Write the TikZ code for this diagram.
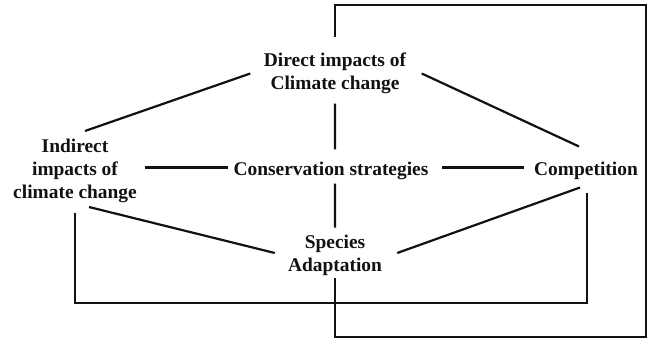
\documentclass[tikz,border=0pt]{standalone}
\usepackage{fontspec}
\setmainfont{Liberation Serif}
\usetikzlibrary{positioning,calc}
\definecolor{ink}{RGB}{17,17,17}
\tikzset{
  item/.style={align=center, inner sep=0pt, text=ink,
               font=\fontsize{19.5}{23}\selectfont\bfseries},
  link/.style={line width=2.2bp, draw=ink},
  hlink/.style={line width=3bp, draw=ink},
}

\begin{document}
\begin{tikzpicture}[x=1bp, y=-1bp]
  \useasboundingbox (0,0) rectangle (649,341);

  % ---- the five concepts ---------------------------------------------
  \node[item] (direct)   at (335,73.5)  {Direct impacts of\\Climate change};
  \node[item] (indirect) at (75,170.5)  {Indirect\\impacts of\\climate change};
  \node[item] (cons)     at (331,170.5) {Conservation strategies};
  \node[item] (comp)     at (586,170.5) {Competition};
  \node[item] (species)  at (335,255.5) {Species\\Adaptation};

  % ---- diagonal links ------------------------------------------------
  \draw[link] ([xshift=-13.5bp]direct.west) -- ([xshift=10bp,yshift=7.5bp]indirect.north);
  \draw[link] ([xshift=15.5bp]direct.east) -- ([xshift=-7bp,yshift=15bp]comp.north);
  \draw[link] ([xshift=14bp,yshift=-4.5bp]indirect.south) -- ([xshift=-13bp,yshift=2.5bp]species.west);
  \draw[link] ([xshift=15bp,yshift=2.5bp]species.east) -- ([xshift=-6bp,yshift=-8bp]comp.south);

  % ---- middle row and middle column ----------------------------------
  \draw[hlink] ([xshift=8bp,yshift=3bp]indirect.east) -- ([xshift=-5bp,yshift=3bp]cons.west);
  \draw[hlink] ([xshift=13bp,yshift=3bp]cons.east) -- ([xshift=-10bp,yshift=3bp]comp.west);
  \draw[link] ([yshift=-9.5bp]direct.south) -- ([xshift=4bp,yshift=12bp]cons.north);
  \draw[link] ([xshift=4bp,yshift=-4bp]cons.south) -- ([yshift=7.5bp]species.north);

  % ---- the two loops -------------------------------------------------
  \draw[link] ([yshift=-10.5bp]indirect.south) -- ++(0,90)
              -| ([xshift=1bp,yshift=-13bp]comp.south);
  \draw[link] ([yshift=15.5bp]direct.north) -- ++(0,-32) -- ++(311,0) -- ++(0,332)
              -| ([yshift=-2bp]species.south);
\end{tikzpicture}
\end{document}
